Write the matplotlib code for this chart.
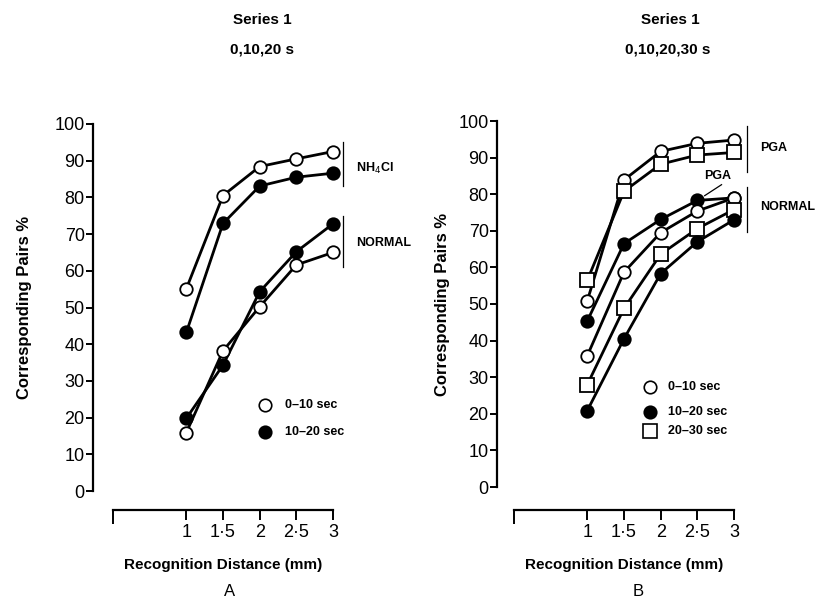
import matplotlib
matplotlib.use("Agg")
import matplotlib.pyplot as plt

plt.rcParams['font.family'] = ['Liberation Sans', 'DejaVu Sans']

dist = [1, 1.5, 2, 2.5, 3]

# Panel A (NH4Cl vs normal, 0-10 and 10-20 sec)
a_nh4_open = [55.1, 80.5, 88.4, 90.5, 92.5]
a_nh4_fill = [43.2, 72.9, 83.1, 85.5, 86.6]
a_norm_open = [15.9, 38.2, 50.2, 61.6, 65.0]
a_norm_fill = [19.8, 34.3, 54.3, 65.2, 72.8]

# Panel B (PGA vs normal, 0-10, 10-20, 20-30 sec)
b_pga_open = [50.9, 83.9, 91.7, 93.9, 94.8]
b_pga_square = [56.5, 80.8, 88.2, 90.7, 91.4]
b_pga_fill = [45.4, 66.5, 73.1, 78.3, 79.0]
b_norm_open = [35.9, 58.7, 69.5, 75.4, 79.0]
b_norm_square = [28.0, 48.8, 63.6, 70.6, 75.8]
b_norm_fill = [20.9, 40.5, 58.3, 67.0, 73.0]

xticks = [0, 1, 1.5, 2, 2.5, 3]
xticklabels = ['', '1', '1·5', '2', '2·5', '3']
yticks = list(range(0, 101, 10))

W, H = 818, 603
fig = plt.figure(figsize=(W / 100, H / 100), dpi=100)


def make_axes(x0, x1, y0, y1, yax_x, xax_y, ylabelpad):
    # pixel coords of data region: x0..x1 (x 0..3), y0 (value 0) .. y1 (value 100)
    ax = fig.add_axes([x0 / W, (H - y0) / H, (x1 - x0) / W, (y0 - y1) / H])
    ax.set_xlim(0, 3)
    ax.set_ylim(0, 100)
    for s in ['top', 'right']:
        ax.spines[s].set_visible(False)
    ax.spines['left'].set_position(('axes', -(x0 - yax_x) / (x1 - x0)))
    ax.spines['bottom'].set_position(('axes', -(xax_y - y0) / (y0 - y1)))
    ax.spines['left'].set_linewidth(1.6)
    ax.spines['bottom'].set_linewidth(1.6)
    ax.set_yticks(yticks)
    ax.set_xticks(xticks)
    ax.set_xticklabels(xticklabels)
    ax.tick_params(axis='y', direction='out', length=5, width=1.4, labelsize=13, pad=1)
    ax.tick_params(axis='x', direction='out', length=7, width=1.4, labelsize=13, pad=3)
    ax.xaxis.get_major_ticks()[0].tick1line.set_markersize(10)
    ax.set_ylabel('Corresponding Pairs %', fontsize=12, fontweight='bold', labelpad=ylabelpad)
    ax.set_xlabel('Recognition Distance (mm)', fontsize=11, fontweight='bold', labelpad=12)
    return ax


def series(ax, y, marker, face):
    ax.plot(dist, y, color='black', lw=2, marker=marker, ms=9 if marker == 'o' else 9.5,
            mfc=face, mec='black', mew=1.3, clip_on=False, zorder=3)


def bracket(ax, x, ylo, yhi, label, ytext):
    ax.plot([x, x], [ylo, yhi], color='black', lw=0.9, clip_on=False)
    ax.text(x + 0.17, ytext, label, fontsize=9, fontweight='bold', va='center', ha='left',
            clip_on=False)


def legend(ax, xm, xt, ys, labels, markers, faces):
    for y, lab, m, f in zip(ys, labels, markers, faces):
        ax.plot([xm], [y], marker=m, ms=9 if m == 'o' else 9.5, mfc=f, mec='black',
                mew=1.2, ls='none', clip_on=False)
        ax.text(xt, y, lab, fontsize=9, fontweight='bold', va='center', ha='left')


# ---- Panel A ----
axA = make_axes(113, 333, 491, 124, 93, 510, 16)
series(axA, a_nh4_open, 'o', 'white')
series(axA, a_nh4_fill, 'o', 'black')
series(axA, a_norm_fill, 'o', 'black')
series(axA, a_norm_open, 'o', 'white')
bracket(axA, 3.14, 83.1, 95.1, 'NH$_4$Cl', 88)
bracket(axA, 3.14, 61.0, 75.0, 'NORMAL', 67.6)
legend(axA, 2.07, 2.35, [23.4, 16.1], ['0–10 sec', '10–20 sec'], ['o', 'o'], ['white', 'black'])
fig.text(262 / W, 1 - 20 / H, 'Series 1', ha='center', va='center', fontsize=11, fontweight='bold')
fig.text(262 / W, 1 - 49 / H, '0,10,20 s', ha='center', va='center', fontsize=11, fontweight='bold')
fig.text(230 / W, 1 - 591 / H, 'A', ha='center', va='center', fontsize=12)

# ---- Panel B ----
axB = make_axes(514, 734, 487, 121, 497, 510, 6)
series(axB, b_pga_open, 'o', 'white')
series(axB, b_pga_square, 's', 'white')
series(axB, b_pga_fill, 'o', 'black')
series(axB, b_norm_open, 'o', 'white')
series(axB, b_norm_square, 's', 'white')
series(axB, b_norm_fill, 'o', 'black')
bracket(axB, 3.18, 86.2, 98.5, 'PGA', 92.5)
bracket(axB, 3.18, 69.8, 82.1, 'NORMAL', 76.4)
axB.text(2.77, 84.9, 'PGA', fontsize=9, fontweight='bold', ha='center', va='center')
axB.plot([2.83, 2.6], [82.6, 79.6], color='black', lw=0.9)
legend(axB, 1.85, 2.1, [27.2, 20.6, 15.2], ['0–10 sec', '10–20 sec', '20–30 sec'],
       ['o', 'o', 's'], ['white', 'black', 'white'])
fig.text(670 / W, 1 - 20 / H, 'Series 1', ha='center', va='center', fontsize=11, fontweight='bold')
fig.text(668 / W, 1 - 49 / H, '0,10,20,30 s', ha='center', va='center', fontsize=11, fontweight='bold')
fig.text(638 / W, 1 - 591 / H, 'B', ha='center', va='center', fontsize=12)

fig.savefig('out.png', dpi=100)
